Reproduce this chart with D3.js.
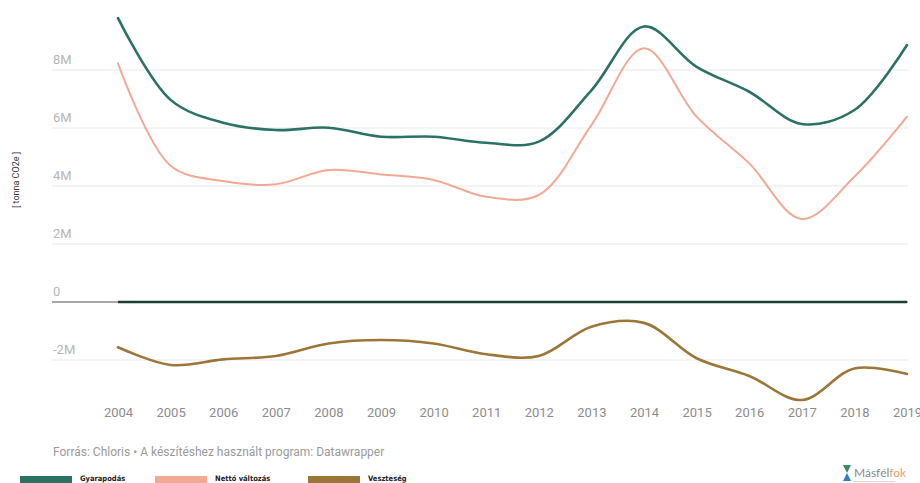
<!DOCTYPE html>
<html>
<head>
<meta charset="utf-8">
<script src="https://cdn.jsdelivr.net/npm/d3@7"></script>
<style>
body{margin:0;background:#fff;}
svg{display:block;font-family:Roboto,"Noto Sans",sans-serif;}
</style>
</head>
<body>
<svg id="chart" width="920" height="483"></svg>
<script>
// years on the x axis
var years=[2004,2005,2006,2007,2008,2009,2010,2011,2012,2013,2014,2015,2016,2017,2018,2019];
// values in tonna CO2e
var gyarapodas=[9.79e6,6.97e6,6.18e6,5.93e6,6.01e6,5.7e6,5.7e6,5.49e6,5.53e6,7.3e6,9.5e6,8.11e6,7.25e6,6.14e6,6.62e6,8.86e6];
var netto=[8.23e6,4.7e6,4.17e6,4.06e6,4.55e6,4.4e6,4.21e6,3.63e6,3.69e6,6.1e6,8.75e6,6.39e6,4.78e6,2.86e6,4.32e6,6.39e6];
var veszteseg=[-1.56e6,-2.17e6,-1.98e6,-1.86e6,-1.43e6,-1.31e6,-1.43e6,-1.8e6,-1.86e6,-0.85e6,-0.72e6,-1.94e6,-2.55e6,-3.38e6,-2.29e6,-2.48e6];
var zero=[0,0,0,0,0,0,0,0,0,0,0,0,0,0,0,0];
var yTicks=[-2e6,0,2e6,4e6,6e6,8e6];
var tickLabels=["-2M","0","2M","4M","6M","8M"];
var legendNames=["Gyarapodás","Nettó változás","Veszteség"];
var colors=["#2b7265","#f2a994","#9c7538"];

var svg=d3.select("#chart");
var x=d3.scaleLinear().domain([2004,2019]).range([118,907]);
var y=d3.scaleLinear().domain([-2e6,8e6]).range([360,70]);

// gridlines
var grid=svg.append("g");
yTicks.forEach(function(t,i){
	grid.append("line").attr("x1",52).attr("x2",908).attr("y1",y(t)).attr("y2",y(t))
		.attr("stroke",t===0?"#8a8a8a":"#e9e9e9").attr("stroke-width",t===0?1.5:1);
	grid.append("text").attr("x",53).attr("y",y(t)-6).text(tickLabels[i])
		.attr("font-size",13).attr("fill","#b5b5b5");
});

// x axis labels
var xAxis=d3.axisBottom(x).tickValues(years).tickFormat(d3.format("d")).tickSize(0);
var gx=svg.append("g").attr("transform","translate(0,405)").call(xAxis);
gx.select(".domain").remove();
gx.selectAll("text").attr("font-size",13).attr("fill","#8c8c8c").attr("font-family","Roboto");

// y axis title
svg.append("text").attr("transform","translate(19,180) rotate(-90)").attr("text-anchor","middle")
	.attr("font-size",9).attr("fill","#333").text("[ tonna CO2e ]");

var line=d3.line().x(function(d,i){return x(years[i]);}).y(function(d){return y(d);})
	.curve(d3.curveCatmullRom.alpha(0.5));

// dark baseline over the zero line
svg.append("path").datum(zero).attr("d",line).attr("fill","none").attr("stroke","#1e3d35").attr("stroke-width",2.5);

[gyarapodas,netto,veszteseg].forEach(function(s,i){
	svg.append("path").datum(s).attr("d",line).attr("fill","none")
		.attr("stroke",colors[i]).attr("stroke-width",i===1?2:2.6).attr("stroke-linecap","round");
});

// footer
svg.append("text").attr("x",53).attr("y",456).attr("font-size",12).attr("fill","#9a9a9a")
	.text("Forrás: Chloris • A készítéshez használt program: Datawrapper");

// legend
var legX=[20,155,308];
legendNames.forEach(function(n,i){
	svg.append("rect").attr("x",legX[i]).attr("y",476).attr("width",52).attr("height",7).attr("fill",colors[i]);
	svg.append("text").attr("x",legX[i]+60).attr("y",481).attr("font-size",7.5).attr("font-weight","bold")
		.attr("fill","#222").attr("font-family","'Liberation Sans Narrow','DejaVu Sans Condensed',sans-serif").text(n);
});

// logo
var logo=svg.append("g").attr("transform","translate(843,465)");
logo.append("path").attr("d","M0,0 L8,0 L4,8 Z").attr("fill","#3a8a6a");
logo.append("path").attr("d","M4,8 L8,16 L0,16 Z").attr("fill","#2f7fc0");
var lt=logo.append("text").attr("x",11).attr("y",12).attr("font-size",12).attr("font-family","Lato,sans-serif");
lt.append("tspan").attr("fill","#8a8a8a").text("Másfél");
lt.append("tspan").attr("fill","#f39a6a").text("fok");
logo.append("text").attr("x",11).attr("y",17).attr("font-size",2.5).attr("fill","#aaa").text("Éghajlatváltozás és fenntarthatóság");
</script>
</body>
</html>
